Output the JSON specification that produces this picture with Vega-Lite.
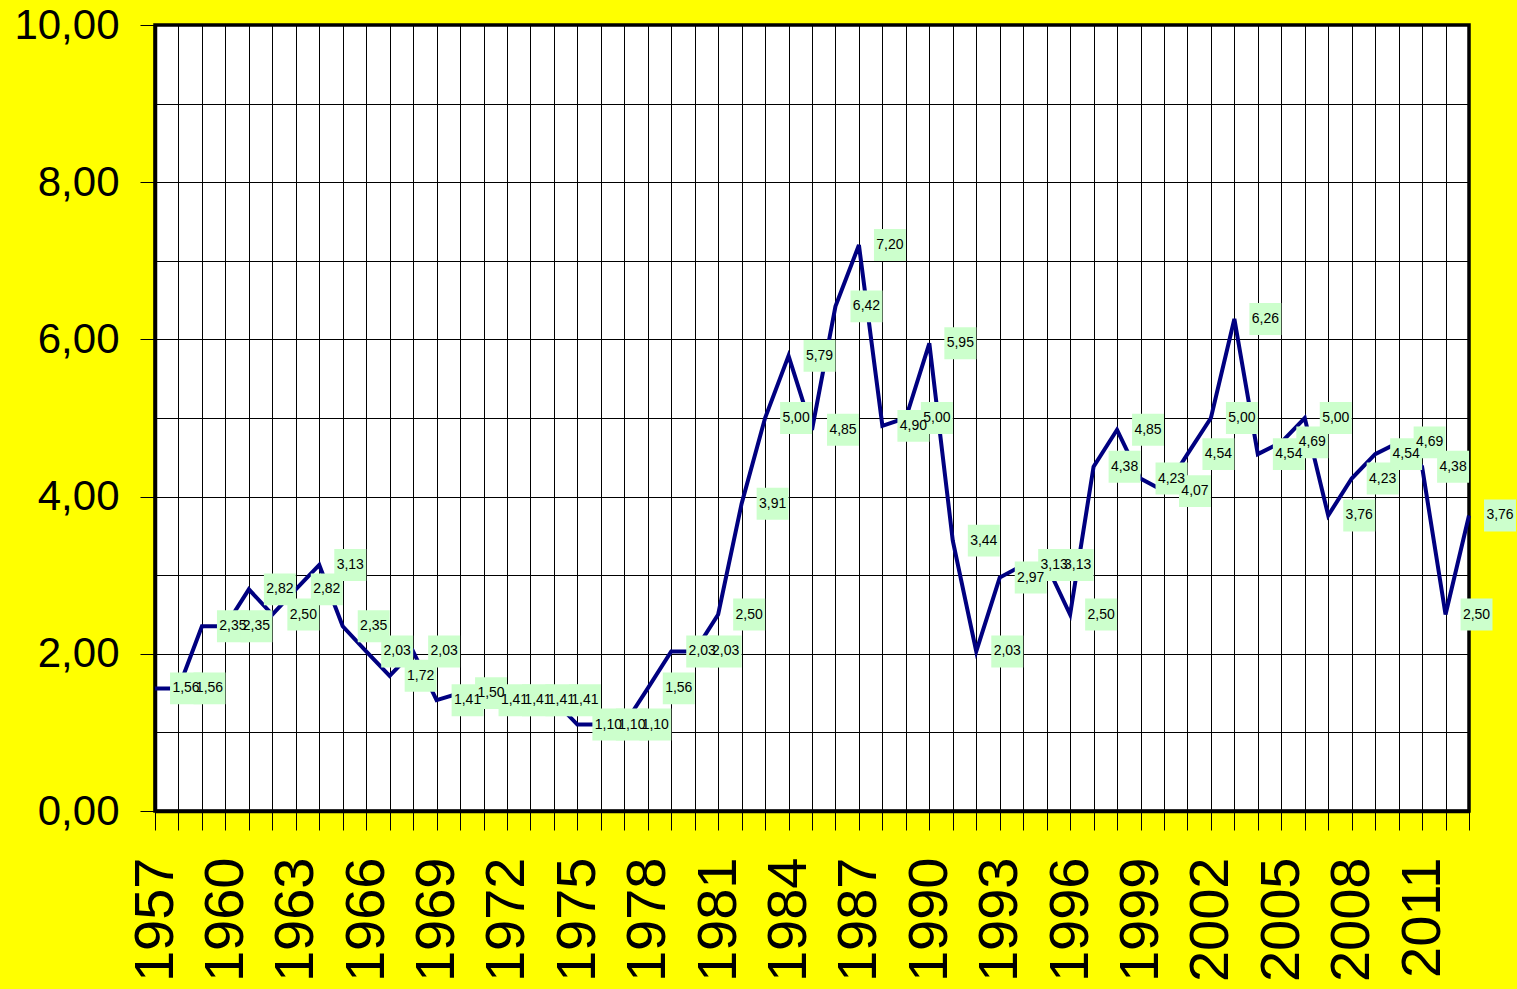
{
  "$schema": "https://vega.github.io/schema/vega-lite/v6.json",
  "autosize": {"type": "none"},
  "padding": {"left": 155, "top": 25, "right": 48, "bottom": 178},
  "width": 1314,
  "height": 786,
  "background": "#FFFF00",
  "config": {
    "view": {"fill": "#FFFFFF", "stroke": "#000000", "strokeWidth": 3.5},
    "font": "Liberation Sans"
  },
  "data": {
    "values": [
      {"year": 1957, "v": 1.56}, {"year": 1958, "v": 1.56}, {"year": 1959, "v": 2.35},
      {"year": 1960, "v": 2.35}, {"year": 1961, "v": 2.82}, {"year": 1962, "v": 2.50},
      {"year": 1963, "v": 2.82}, {"year": 1964, "v": 3.13}, {"year": 1965, "v": 2.35},
      {"year": 1966, "v": 2.03}, {"year": 1967, "v": 1.72}, {"year": 1968, "v": 2.03},
      {"year": 1969, "v": 1.41}, {"year": 1970, "v": 1.50}, {"year": 1971, "v": 1.41},
      {"year": 1972, "v": 1.41}, {"year": 1973, "v": 1.41}, {"year": 1974, "v": 1.41},
      {"year": 1975, "v": 1.10}, {"year": 1976, "v": 1.10}, {"year": 1977, "v": 1.10},
      {"year": 1978, "v": 1.56}, {"year": 1979, "v": 2.03}, {"year": 1980, "v": 2.03},
      {"year": 1981, "v": 2.50}, {"year": 1982, "v": 3.91}, {"year": 1983, "v": 5.00},
      {"year": 1984, "v": 5.79}, {"year": 1985, "v": 4.85}, {"year": 1986, "v": 6.42},
      {"year": 1987, "v": 7.20}, {"year": 1988, "v": 4.90}, {"year": 1989, "v": 5.00},
      {"year": 1990, "v": 5.95}, {"year": 1991, "v": 3.44}, {"year": 1992, "v": 2.03},
      {"year": 1993, "v": 2.97}, {"year": 1994, "v": 3.13}, {"year": 1995, "v": 3.13},
      {"year": 1996, "v": 2.50}, {"year": 1997, "v": 4.38}, {"year": 1998, "v": 4.85},
      {"year": 1999, "v": 4.23}, {"year": 2000, "v": 4.07}, {"year": 2001, "v": 4.54},
      {"year": 2002, "v": 5.00}, {"year": 2003, "v": 6.26}, {"year": 2004, "v": 4.54},
      {"year": 2005, "v": 4.69}, {"year": 2006, "v": 5.00}, {"year": 2007, "v": 3.76},
      {"year": 2008, "v": 4.23}, {"year": 2009, "v": 4.54}, {"year": 2010, "v": 4.69},
      {"year": 2011, "v": 4.38}, {"year": 2012, "v": 2.50}, {"year": 2013, "v": 3.76}
    ]
  },
  "transform": [
    {"calculate": "replace(format(datum.v, '.2f'), '.', ',')", "as": "lbl"}
  ],
  "encoding": {
    "x": {
      "field": "year",
      "type": "quantitative",
      "scale": {"domain": [1957, 2013], "nice": false, "zero": false},
      "axis": {
        "title": null,
        "values": [1957,1958,1959,1960,1961,1962,1963,1964,1965,1966,1967,1968,1969,1970,1971,1972,1973,1974,1975,1976,1977,1978,1979,1980,1981,1982,1983,1984,1985,1986,1987,1988,1989,1990,1991,1992,1993,1994,1995,1996,1997,1998,1999,2000,2001,2002,2003,2004,2005,2006,2007,2008,2009,2010,2011,2012,2013],
        "labelExpr": "(datum.value - 1957) % 3 == 0 ? format(datum.value, 'd') : ''",
        "labelAngle": -90,
        "labelFontSize": 56,
        "labelFont": "Liberation Sans",
        "labelColor": "#000000",
        "labelPadding": 27,
        "labelOverlap": false,
        "labelFlush": false,
        "labelBound": false,
        "tickSize": 19,
        "tickColor": "#000000",
        "tickWidth": 1,
        "grid": true,
        "gridColor": "#000000",
        "gridWidth": 1,
        "gridOpacity": 1,
        "domain": true,
        "domainColor": "#000000",
        "domainWidth": 3.5
      }
    },
    "y": {
      "field": "v",
      "type": "quantitative",
      "scale": {"domain": [0, 10], "nice": false},
      "axis": {
        "title": null,
        "values": [0,1,2,3,4,5,6,7,8,9,10],
        "labelExpr": "datum.value % 2 == 0 ? replace(format(datum.value, '.2f'), '.', ',') : ''",
        "labelFontSize": 42,
        "labelFont": "Liberation Sans",
        "labelColor": "#000000",
        "labelPadding": 21,
        "labelOverlap": false,
        "labelFlush": false,
        "labelBound": false,
        "tickSize": 15,
        "tickColor": "#000000",
        "tickWidth": 1,
        "tickOpacity": {"condition": {"test": "datum.value % 2 == 0", "value": 1}, "value": 0},
        "grid": true,
        "gridColor": "#000000",
        "gridWidth": 1,
        "gridOpacity": 1,
        "domain": true,
        "domainColor": "#000000",
        "domainWidth": 3.5
      }
    }
  },
  "layer": [
    {
      "mark": {"type": "line", "color": "#000080", "strokeWidth": 4, "clip": false}
    },
    {
      "mark": {"type": "point", "shape": "square", "filled": true, "color": "#CCFFCC", "opacity": 1, "size": 1020, "strokeWidth": 0, "xOffset": 31, "clip": false}
    },
    {
      "mark": {"type": "text", "xOffset": 31, "fontSize": 14, "font": "Liberation Sans", "color": "#000000", "align": "center", "baseline": "middle", "clip": false},
      "encoding": {"text": {"field": "lbl"}}
    }
  ]
}
